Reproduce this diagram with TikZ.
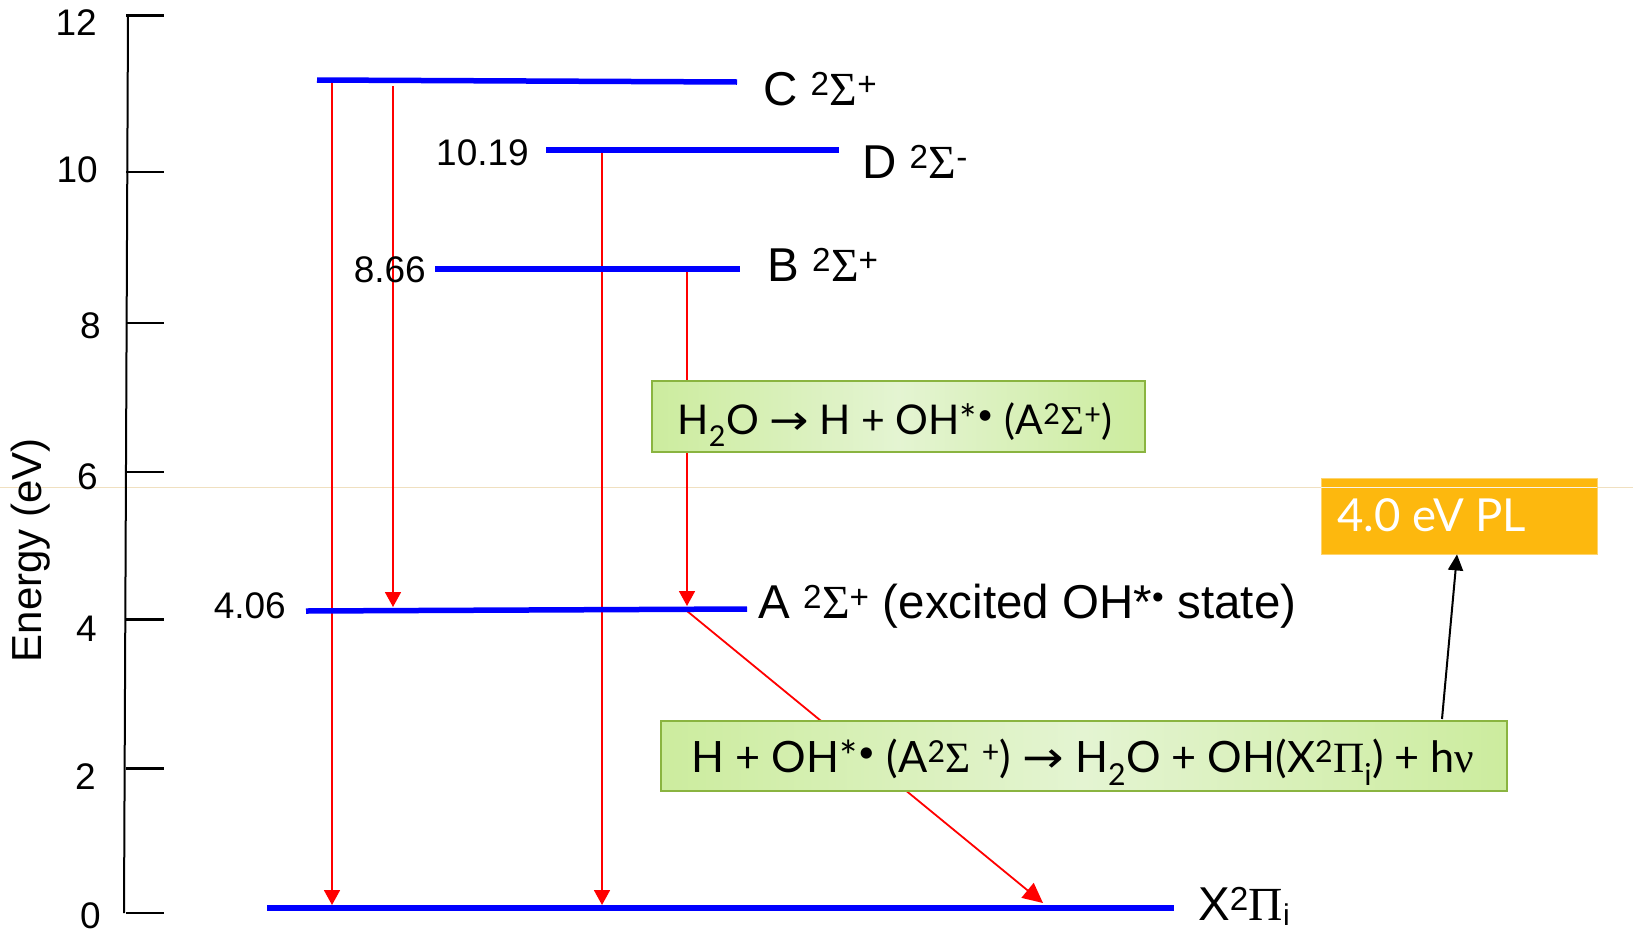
\documentclass[tikz,border=0pt]{standalone}
\usepackage{fontspec}
\setmainfont{Liberation Sans}
\newfontfamily\greekface{Liberation Serif}
\newfontfamily\boxface{Lato}
\newfontfamily\arrowface{DejaVu Sans}
\usetikzlibrary{arrows.meta}

\definecolor{lvlblue}{RGB}{0,0,255}
\definecolor{boxgreenA}{RGB}{204,236,158}
\definecolor{boxgreenB}{RGB}{228,244,210}
\definecolor{boxedge}{RGB}{138,180,64}
\definecolor{plorange}{RGB}{253,184,14}
\definecolor{guide}{RGB}{240,224,192}

\newcommand{\yields}{ {\arrowface\scalebox{1.15}[1]{→}} }
\newcommand{\lowidx}[1]{\raisebox{-0.12em}{\fontsize{30}{30}\selectfont #1}}

\begin{document}
\begin{tikzpicture}[x=1pt,y=-1pt,
  level/.style={draw=lvlblue, line width=5.5pt},
  trans/.style={draw=red, line width=1.8pt, -{Triangle[width=16pt,length=15pt]}},
  transbig/.style={draw=red, line width=1.8pt, -{Triangle[width=19pt,length=20pt]}},
  axisline/.style={line width=2pt},
  ticksty/.style={line width=2.5pt},
  ticklab/.style={font=\fontsize{37}{40}\selectfont, anchor=east, inner sep=0pt},
  lab/.style={font=\fontsize{47.5}{52}\selectfont, inner sep=0pt},
  numlab/.style={font=\fontsize{37}{40}\selectfont, inner sep=0pt, anchor=base east},
  reaction/.style={draw=boxedge, line width=1.5pt, left color=boxgreenA, right color=boxgreenA,
    middle color=boxgreenB, inner sep=0pt},
  reactext/.style={inner sep=0pt, anchor=base},
  plbox/.style={fill=plorange, draw=plorange!60, line width=0.8pt, inner sep=0pt},
]
\useasboundingbox (0,0) rectangle (1633,935);

% faint horizontal guide
\draw[guide, line width=1pt] (0,487) -- (1633,487);

% energy axis and ticks
\draw[axisline] (128,15.6) -- (124,913);
\foreach \yy in {15.6,172,323,471.8,619.7,768.6,913}
  \draw[ticksty] (126,\yy) -- (164,\yy);
\node[ticklab] (t12) at (97,23) {12};
\node[ticklab] (t10) at (98,170) {10};
\node[ticklab] (t8) at (101,326) {8};
\node[ticklab] (t6) at (98,477) {6};
\node[ticklab] (t4) at (97,629) {4};
\node[ticklab] (t2) at (96,777) {2};
\node[ticklab] (t0) at (101,916) {0};
\node[rotate=90, font=\fontsize{42}{46}\selectfont, inner sep=0pt] (ylab) at (31,550) {Energy (eV)};

% level end points
\coordinate (Cl) at (317,80);   \coordinate (Cr) at (737,82);
\coordinate (Dl) at (546,150);  \coordinate (Dr) at (839,150);
\coordinate (Bl) at (435,269);  \coordinate (Br) at (740,269);
\coordinate (Al) at (306,611);  \coordinate (Ar) at (747,609);
\coordinate (Xl) at (267,908);  \coordinate (Xr) at (1174,908);

% transition end points
\coordinate (c1s) at (332,80);  \coordinate (c1e) at (332,905);
\coordinate (c2s) at (393,86);  \coordinate (c2e) at (393,607);
\coordinate (d1s) at (602,152); \coordinate (d1e) at (602,905);
\coordinate (b1s) at (687,271); \coordinate (b1e) at (687,606);
\coordinate (a1s) at (687,611); \coordinate (a1e) at (1043,903);

% transitions
\draw[trans] (c1s) -- (c1e);
\draw[trans] (c2s) -- (c2e);
\draw[trans] (d1s) -- (d1e);
\draw[trans] (b1s) -- (b1e);
\draw[transbig] (a1s) -- (a1e);

% energy levels
\draw[level] (Cl) -- (Cr);
\draw[level] (Dl) -- (Dr);
\draw[level] (Bl) -- (Br);
\draw[level] (Al) -- (Ar);
\draw[level] (Xl) -- (Xr);

% level labels
\node[lab, anchor=base west] (Clab) at (763,105) {C \textsuperscript{2}{\greekface Σ}\textsuperscript{+}};
\node[lab, anchor=base west] (Dlab) at (862,178) {D \textsuperscript{2}{\greekface Σ}\textsuperscript{-}};
\node[lab, anchor=base west] (Blab) at (767,281) {B \textsuperscript{2}{\greekface Σ}\textsuperscript{+}};
\node[lab, anchor=base west] (Alab) at (758,618) {A \textsuperscript{2}{\greekface Σ}\textsuperscript{+} (excited OH*\textsuperscript{•} state)};
\node[lab, anchor=base west] (Xlab) at (1198,920) {X\textsuperscript{2}{\greekface Π}\lowidx{i}};
\node[numlab] (Dval) at (529,165) {10.19};
\node[numlab] (Bval) at (426,282) {8.66};
\node[numlab] (Aval) at (286,618) {4.06};

% reaction boxes
\node[reaction, minimum width=493pt, minimum height=71pt] (r1) at (898.5,416.5) {};
\node[reactext, font=\boxface\fontsize{41}{46}\selectfont] (r1txt) at (895,434)
  {H\textsubscript{2}O\yields H + OH*\textsuperscript{•} (A\textsuperscript{2}{\greekface Σ}\textsuperscript{+})};
\node[reaction, minimum width=846pt, minimum height=70pt] (r2) at (1084,756) {};
\node[reactext, font=\boxface\fontsize{43.2}{46}\selectfont] (r2txt) at (1083,772)
  {H + OH*\textsuperscript{•} (A\textsuperscript{2}{\greekface Σ} \textsuperscript{+})\yields H\textsubscript{2}O + OH(X\textsuperscript{2}{\greekface Π}\textsubscript{i}) + h{\greekface ν}};

% photoluminescence box
\node[plbox, minimum width=276pt, minimum height=76pt] (pl) at (1459,516) {};
\draw[guide!40!white, line width=1pt] (pl.west |- 0,487) -- (pl.east |- 0,487);
\node[anchor=base west, inner sep=0pt, text=white, font=\boxface\fontsize{45.5}{50}\selectfont] (pltext) at (1337,531) {4.0 eV PL};

\coordinate (emit) at (1442,719);
\draw[line width=2pt, -{Triangle[width=15pt,length=16pt]}] (emit) -- (pl.south -| 1457,0);
\end{tikzpicture}
\end{document}
